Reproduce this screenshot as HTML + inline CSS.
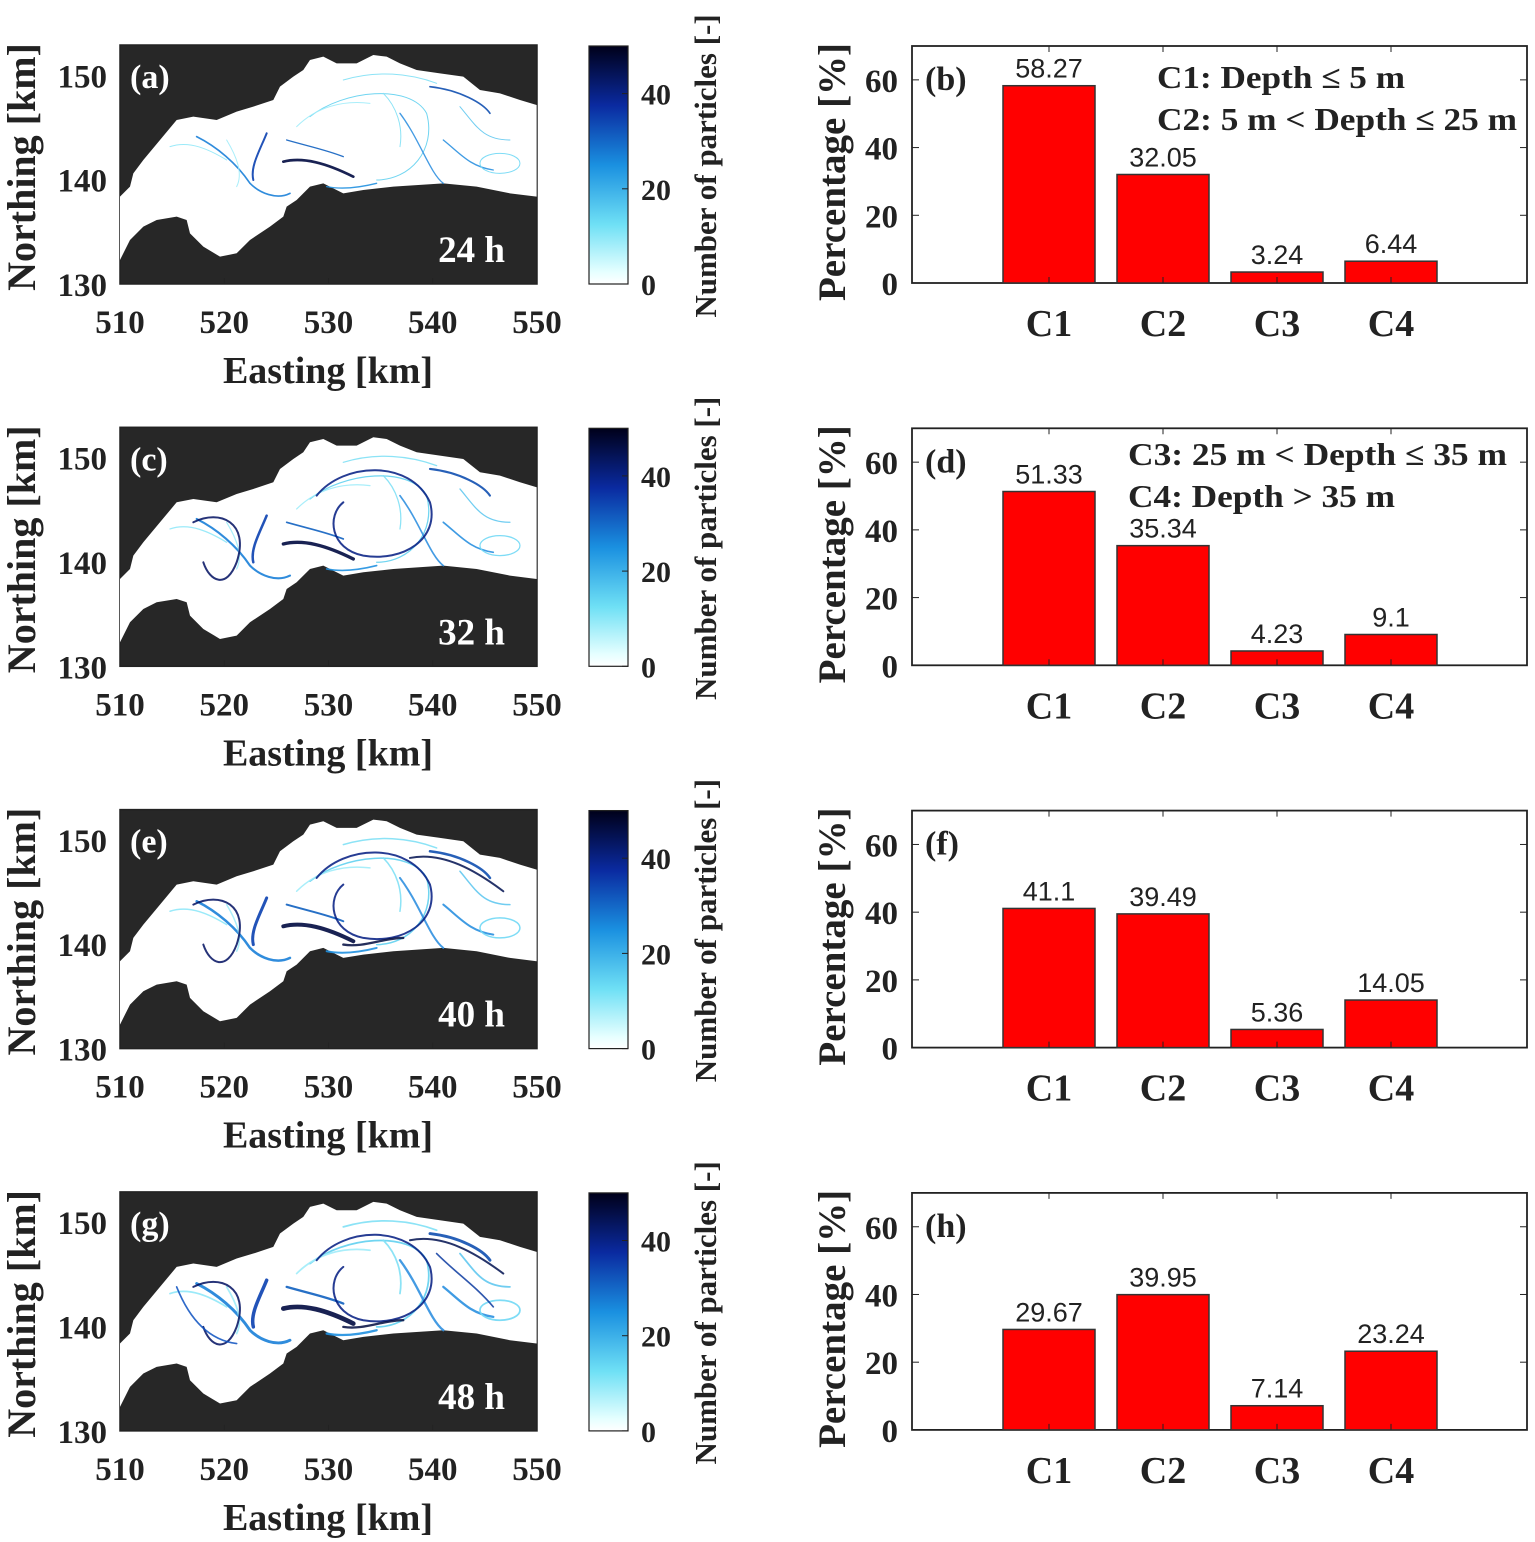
<!DOCTYPE html>
<html><head><meta charset="utf-8"><style>
html,body{margin:0;padding:0;background:#fff;}
svg{display:block;}
text{font-family:"Liberation Serif",serif;font-weight:bold;fill:#222;}
.num{font-family:"Liberation Sans",sans-serif;font-weight:normal;}
</style></head><body>
<svg id="fig" width="1535" height="1542" viewBox="0 0 1535 1542" xmlns="http://www.w3.org/2000/svg">
<defs>
<linearGradient id="cb" x1="0" y1="1" x2="0" y2="0">
<stop offset="0" stop-color="#ffffff"/><stop offset="0.05" stop-color="#e6ffff"/>
<stop offset="0.25" stop-color="#6fe0f5"/><stop offset="0.5" stop-color="#1a90e0"/>
<stop offset="0.75" stop-color="#0a2aa0"/><stop offset="1" stop-color="#00001a"/>
</linearGradient>
</defs>
</svg>
<script>
const categories = ["C1","C2","C3","C4"];
const valuesB = [58.27,32.05,3.24,6.44];
const valuesD = [51.33,35.34,4.23,9.1];
const valuesF = [41.1,39.49,5.36,14.05];
const valuesH = [29.67,39.95,7.14,23.24];
const yTicks = [0,20,40,60];
const mapXTicks = [510,520,530,540,550];
const mapYTicks = [130,140,150];
const cbTicks = [0,20,40];
const times = ["24 h","32 h","40 h","48 h"];
const leftLabels = ["(a)","(c)","(e)","(g)"];
const rightLabels = ["(b)","(d)","(f)","(h)"];
const allValues = [valuesB,valuesD,valuesF,valuesH];

const NS="http://www.w3.org/2000/svg";
const svg=document.getElementById('fig');
function mk(tag,attrs,parent,txt){const e=document.createElementNS(NS,tag);for(const k in attrs)e.setAttribute(k,attrs[k]);if(txt!==undefined)e.textContent=txt;(parent||svg).appendChild(e);return e;}

const DY=382.3;
const shape="M30,470 L60,440 L70,400 L100,360 L150,300 L200,240 L250,230 L320,240 L380,215 L430,200 L490,180 L510,140 L550,110 L580,90 L600,60 L640,50 L680,70 L740,70 L790,45 L830,50 L870,70 L920,90 L990,100 L1060,110 L1110,150 L1170,160 L1230,180 L1280,195 L1280,470 L1200,460 L1100,440 L1000,430 L850,440 L760,450 L700,460 L640,430 L600,440 L560,480 L530,500 L520,530 L480,560 L420,600 L380,640 L330,650 L280,620 L240,580 L230,540 L200,530 L140,540 L100,560 L60,600 L30,660 Z";
const streaks=[
 ["M520,365 C580,350 650,370 730,410","#000a40",8],
 ["M530,300 C600,320 650,330 700,350","#1060c0",4],
 ["M470,280 C450,330 420,380 430,420","#0a40b0",6],
 ["M260,290 C320,320 380,370 420,430 C450,460 500,480 540,460","#1a80d8",5],
 ["M650,440 C700,450 760,440 800,430","#2090e0",4],
 ["M600,230 C700,150 900,130 950,220 C980,330 900,420 800,420","#60d0f0",3],
 ["M870,220 C930,300 960,400 1000,430","#3090e0",4],
 ["M960,140 C1050,150 1120,190 1140,220","#104fb0",5],
 ["M1000,300 C1050,340 1080,380 1150,390","#2a90e0",4],
 ["M1110,370 A60,30 0 1 0 1230,370 A60,30 0 1 0 1110,370","#70d8f5",3],
 ["M180,320 C240,300 300,330 350,360","#90e8f8",3],
 ["M700,120 C800,90 900,100 980,130","#80e0f5",3],
 ["M560,260 C620,200 700,180 780,190","#a0ecfa",3],
 ["M820,160 C860,200 880,260 870,320","#80e0f5",3],
 ["M1050,200 C1100,260 1120,300 1200,300","#60c8f0",3],
 ["M350,300 C380,350 400,400 380,440","#a0ecfa",3]
];
const extra=[
 ["M250,300 C330,260 420,300 380,420 C350,500 300,480 280,420","#000f60",6],
 ["M620,220 C700,120 900,110 960,240 C990,350 880,420 760,400 C660,380 650,280 700,240","#001a80",6],
 ["M900,160 C1000,140 1100,200 1180,260","#001050",6],
 ["M700,420 C760,430 820,400 880,400","#000a40",7],
 ["M200,300 C240,400 300,460 380,470","#0a50c0",5],
 ["M980,200 C1040,260 1100,300 1150,360","#0a3aa0",5]
];

for(let p=0;p<4;p++){
 const oy=p*DY;
 const g=mk('g',{});
 mk('rect',{x:120,y:45+oy,width:417,height:239,fill:'#272727',stroke:'#222','stroke-width':1.5},g);
 const m=mk('g',{transform:`translate(110,${40+oy}) scale(0.3333)`},g);
 
 const w=mk('path',{d:shape,fill:'#ffffff'},m);
 
 
 streaks.forEach((s,i)=>{const e=mk('path',{d:s[0],fill:'none',stroke:s[1],'stroke-width':s[2]*(1+p*0.25),'stroke-linecap':'round',opacity:0.9},m);
  
  });
 extra.slice(0,p*2).forEach(s=>{const e=mk('path',{d:s[0],fill:'none',stroke:s[1],'stroke-width':s[2],'stroke-linecap':'round',opacity:0.85},m);
  
  });
 mk('text',{x:130,y:88+oy,'font-size':34,style:'fill:#fff'},g,leftLabels[p]);
 mk('text',{x:505,y:262+oy,'font-size':37,'text-anchor':'end',style:'fill:#fff'},g,times[p]);
 const xs=v=>120+(v-510)/40*417, ys=v=>284-(v-130)/22.9*239;
 mapXTicks.forEach(v=>{mk('line',{x1:xs(v),x2:xs(v),y1:284+oy,y2:278+oy,stroke:'#222'},g);
  const t=mk('text',{x:xs(v),y:333+oy,'font-size':33,'text-anchor':'middle'},g,v);});
 mapYTicks.forEach(v=>{const t=mk('text',{x:107,y:ys(v)+12+oy,'font-size':33,'text-anchor':'end'},g,v);});
 mk('text',{x:328,y:383+oy,'font-size':38,'text-anchor':'middle'},g,'Easting [km]');
 mk('text',{x:0,y:0,'font-size':40,'text-anchor':'middle',transform:`translate(35,${167+oy}) rotate(-90)`},g,'Northing [km]');
 const cbr=mk('rect',{x:589,y:46+oy,width:39,height:238,fill:'url(#cb)',stroke:'#222','stroke-width':1.2},g);
 
 
 cbTicks.forEach(v=>{const y=284-v/50*238+oy;mk('line',{x1:622,x2:628,y1:y,y2:y,stroke:'#222'},g);
  mk('text',{x:641,y:y+11,'font-size':30},g,v);});
 mk('text',{x:0,y:0,'font-size':31,'text-anchor':'middle',transform:`translate(716,${166+oy}) rotate(-90)`},g,'Number of particles [-]');

 const b=mk('g',{});
 const L=912,R=1527,T=46+oy,B=283+oy;
 const yv=v=>B-v/70*(B-T), xc=i=>1049+i*114;
 mk('rect',{x:L,y:T,width:R-L,height:B-T,fill:'#fff',stroke:'#222','stroke-width':1.8},b);
 allValues[p].forEach((v,i)=>{
  const r=mk('rect',{x:xc(i)-46,y:yv(v),width:92,height:B-yv(v),fill:'#ff0000',stroke:'#333','stroke-width':1.5},b);
  
  
  const t=mk('text',{x:xc(i),y:yv(v)-8,'font-size':27,'text-anchor':'middle',class:'num'},b,v);
  
  
  mk('line',{x1:xc(i),x2:xc(i),y1:B,y2:B-6,stroke:'#222'},b);
  mk('line',{x1:xc(i),x2:xc(i),y1:T,y2:T+6,stroke:'#222'},b);
  mk('text',{x:xc(i),y:B+53,'font-size':38,'text-anchor':'middle'},b,categories[i]);
 });
 yTicks.forEach(v=>{const y=yv(v);mk('line',{x1:L,x2:L+7,y1:y,y2:y,stroke:'#222'},b);mk('line',{x1:R,x2:R-7,y1:y,y2:y,stroke:'#222'},b);
  mk('text',{x:898,y:y+12,'font-size':33,'text-anchor':'end'},b,v);});
 mk('text',{x:0,y:0,'font-size':39,'text-anchor':'middle',transform:`translate(845,${172+oy}) rotate(-90)`},b,'Percentage [%]');
 mk('text',{x:925,y:90+oy,'font-size':34},b,rightLabels[p]);
}
const l1=mk('text',{x:1157,y:88,'font-size':32,textLength:248,lengthAdjust:'spacingAndGlyphs'},svg,'C1: Depth ≤ 5 m');


const l2=mk('text',{x:1157,y:130,'font-size':32,textLength:360,lengthAdjust:'spacingAndGlyphs'},svg,'C2: 5 m < Depth ≤ 25 m');


const l3=mk('text',{x:1128,y:465,'font-size':32,textLength:379,lengthAdjust:'spacingAndGlyphs'},svg,'C3: 25 m < Depth ≤ 35 m');


const l4=mk('text',{x:1128,y:507,'font-size':32,textLength:267,lengthAdjust:'spacingAndGlyphs'},svg,'C4: Depth > 35 m');


</script>
</body></html>
